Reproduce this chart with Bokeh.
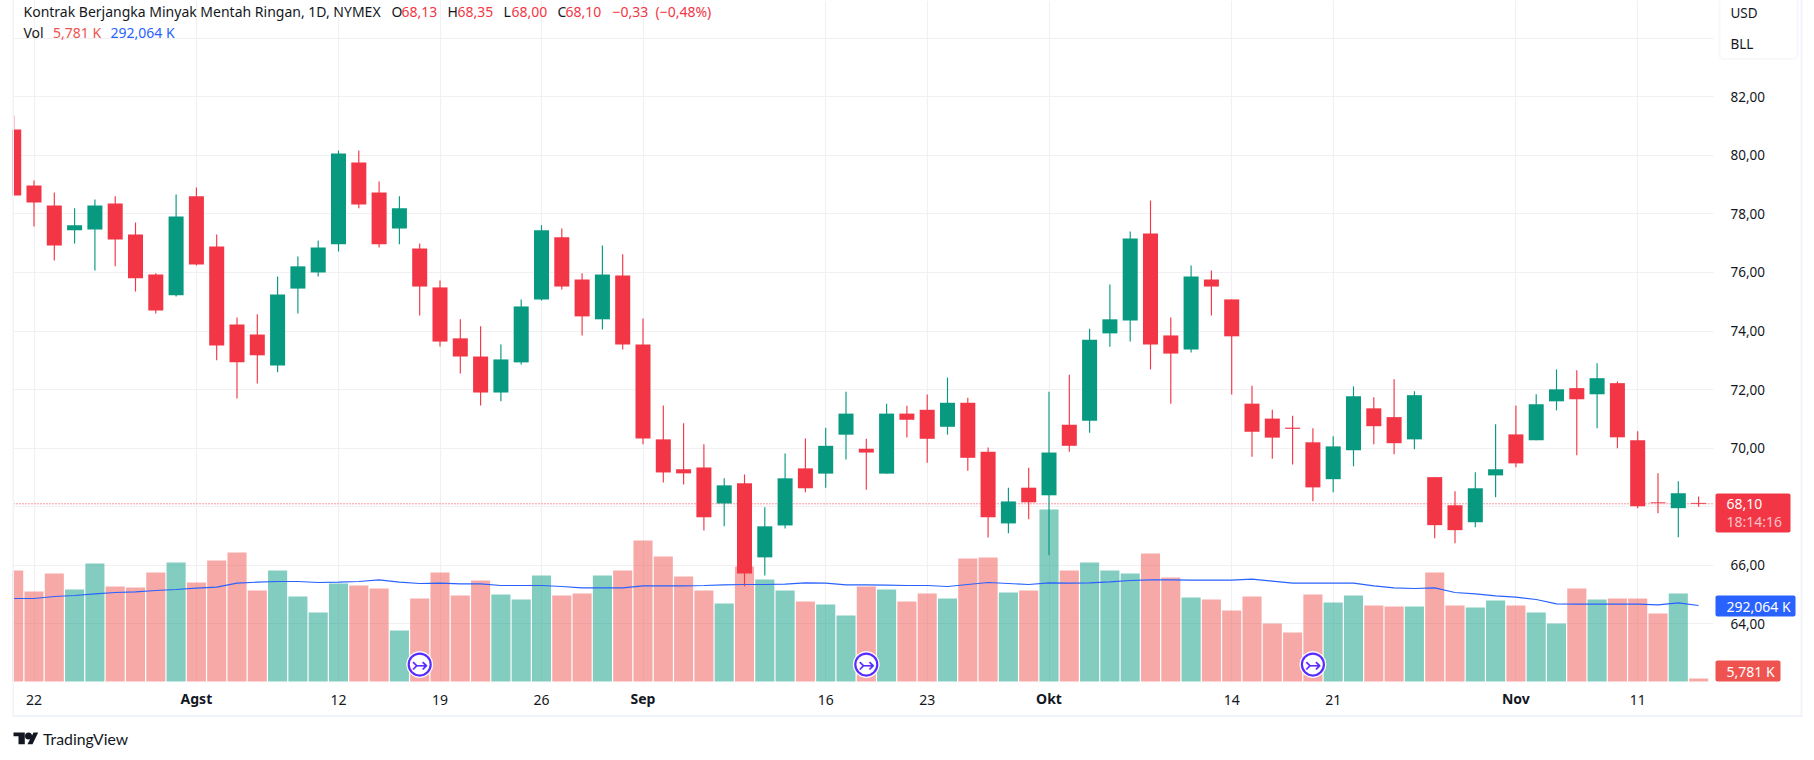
from bokeh.plotting import figure
from bokeh.embed import file_html
from bokeh.resources import INLINE
from bokeh.core.properties import value
from bokeh.models import (ColumnDataSource, FixedTicker, Range1d, Label,
                          BoxAnnotation, PolyAnnotation)

first_bar = -1
opens = [80.88,78.97,78.29,77.44,77.47,78.36,77.30,75.93,75.22,78.60,76.89,74.22,73.88,72.82,75.45,76.00,76.96,79.76,78.73,77.50,
         76.82,75.49,73.75,73.13,71.90,72.93,75.08,77.20,75.76,74.40,75.90,73.54,70.30,69.28,69.34,68.11,68.80,66.27,67.36,69.31,
         69.13,70.46,69.98,69.13,71.18,71.31,70.73,71.55,69.88,67.43,68.65,68.39,70.80,70.94,73.92,74.36,77.33,73.85,73.37,75.76,
         75.08,71.52,71.01,70.70,70.20,68.94,69.93,71.36,71.06,70.30,69.01,68.05,67.47,69.07,70.47,70.27,71.60,72.05,71.84,72.22,
         70.27,68.15,67.95,68.13]
highs = [81.36,79.14,78.73,78.19,78.49,78.60,77.71,75.97,78.66,78.90,77.30,74.46,74.57,75.86,76.55,77.09,80.17,80.17,79.11,78.60,
         76.99,75.73,74.40,74.16,73.54,75.08,77.61,77.50,75.97,76.92,76.62,74.43,71.46,70.85,70.13,68.97,69.10,67.98,69.82,70.33,
         70.70,71.93,70.32,71.52,71.45,71.83,72.41,71.72,70.02,68.65,69.33,71.93,72.51,74.08,75.59,77.40,78.46,74.46,76.24,76.07,
         75.08,72.13,71.31,71.11,70.68,70.41,72.11,71.74,72.35,71.94,69.01,68.53,69.18,70.82,71.46,71.84,72.69,72.66,72.90,72.28,
         70.58,69.14,68.87,68.35]
lows = [78.63,77.57,76.41,76.99,76.07,76.21,75.35,74.60,75.18,76.24,73.00,71.70,72.21,72.59,74.60,75.86,76.72,78.19,76.85,76.96,
        74.53,73.47,72.55,71.46,71.60,72.86,75.04,75.42,73.85,74.05,73.37,70.13,68.83,68.76,67.19,67.33,65.28,65.65,67.26,68.49,
        68.65,69.61,68.58,69.13,70.36,69.50,70.46,69.23,66.95,67.09,67.57,66.34,69.88,70.53,73.46,73.64,72.69,71.52,73.27,74.53,
        71.83,69.71,69.64,69.44,68.19,68.49,69.38,70.13,69.79,69.96,66.92,66.75,67.30,68.32,69.35,70.27,71.29,69.76,70.68,70.00,
        67.95,67.78,66.96,68.00]
closes = [78.63,78.39,76.92,77.61,78.29,77.13,75.80,74.70,77.91,76.27,73.51,72.93,73.17,75.25,76.21,76.85,80.06,78.32,76.96,78.19,
          75.52,73.64,73.13,71.90,73.03,74.84,77.44,75.52,74.50,75.93,73.54,70.33,69.17,69.14,67.64,68.73,65.72,67.33,68.97,68.63,
          70.08,71.18,69.85,71.18,70.97,70.32,71.55,69.67,67.64,68.18,68.15,69.85,70.08,73.70,74.40,77.16,73.54,73.23,75.86,75.52,
          73.82,70.56,70.36,70.66,68.66,70.06,71.77,70.75,70.17,71.81,67.37,67.20,68.63,69.28,69.48,71.50,72.01,71.67,72.39,70.37,
          68.02,68.12,68.46,68.10]
volumes = [429.3,346.9,417.5,354.8,456.7,366.5,362.6,421.4,460.6,382.2,468.5,499.8,350.8,429.3,327.3,264.6,378.3,370.5,358.7,194.0,
           319.5,421.4,331.2,390.1,335.2,315.6,409.7,331.2,339.1,409.7,429.3,546.9,484.2,405.7,350.8,299.9,445.0,394.0,350.8,307.7,
           296.0,252.8,366.5,354.8,307.7,339.1,319.5,476.3,480.2,343.0,350.8,668.4,429.3,460.6,429.3,417.5,495.9,401.8,323.4,315.6,
           272.4,327.3,221.5,186.2,335.2,303.8,331.2,292.0,288.1,288.1,421.4,292.0,284.2,311.6,292.0,264.6,221.5,358.7,315.6,319.5,
           319.5,260.7,339.1,5.781]
volume_ma = [319.5,319.5,327.3,331.2,337.8,343.0,345.6,350.8,354.8,360.0,363.9,379.6,383.5,386.1,386.1,382.2,383.5,386.1,392.7,383.5,
             378.3,379.6,377.0,377.0,370.5,370.5,370.5,366.5,361.3,361.3,361.3,369.1,369.1,369.1,370.5,373.1,374.4,374.4,375.7,380.9,
             379.6,373.1,373.1,371.8,370.5,370.5,366.5,374.4,382.2,378.3,374.4,380.9,379.6,380.9,384.8,390.1,392.7,392.7,391.4,391.4,
             391.4,395.3,387.4,379.6,379.6,379.6,379.6,369.1,361.3,358.7,361.3,343.0,337.8,329.9,324.7,315.6,298.5,297.2,297.2,297.2,
             297.2,294.6,302.5,292.064]
price_ticks = [64, 66, 68, 70, 72, 74, 76, 78, 80, 82, 84]
hidden_price_ticks = [68, 84]
date_ticks = [0, 15, 20, 25, 39, 44, 59, 64, 79]
date_labels = ["22", "12", "19", "26", "16", "23", "14", "21", "11"]
month_ticks = [8, 30, 50, 73]
month_labels = ["Agst", "Sep", "Okt", "Nov"]
event_bars = [19, 41, 63]
event_level = [62.61, 62.61, 62.61]
last_price = 68.10

GREEN = "#089981"
RED = "#F23645"
BLUE = "#2962FF"
VRED = "#EF5350"
INK = "#131722"
GRID = "#F1F1F4"
BORDER = "#F0F3FA"
FONT = "Noto Sans"

# pane geometry (canvas pixels) and the ranges that fill the whole canvas with it
W, H = 1814, 760
PANE_L, PANE_R, PANE_B = 13, 1713, 681
BAR_STEP, BAR0 = 20.3, 33.5
x0, x1 = (0 - BAR0) / BAR_STEP, (W - BAR0) / BAR_STEP
PRICE_PX, PRICE_82_Y = 29.28, 96.3
y1 = 82 + PRICE_82_Y / PRICE_PX
y0 = 82 - (H - PRICE_82_Y) / PRICE_PX
pane_bottom_price = 82 - (PANE_B - PRICE_82_Y) / PRICE_PX
VOL_PX, VOL_BASE = 0.255, -5.98
vol0 = VOL_BASE - (H - PANE_B) / VOL_PX
vol1 = VOL_BASE + PANE_B / VOL_PX
pane_left_bar = (PANE_L - BAR0) / BAR_STEP
pane_right_bar = (PANE_R - BAR0) / BAR_STEP

x = [first_bar + i for i in range(len(opens))]
up = [c >= o for o, c in zip(opens, closes)]
src = ColumnDataSource(dict(
    x=x, high=highs, low=lows, top=[max(o, c) for o, c in zip(opens, closes)],
    bot=[min(o, c) for o, c in zip(opens, closes)], vol=volumes, ma=volume_ma,
    col=[GREEN if u else RED for u in up], vcol=[GREEN if u else VRED for u in up]))

p = figure(width=W, height=H, output_backend="svg", toolbar_location=None,
           x_range=Range1d(x0, x1), y_range=Range1d(y0, y1),
           y_axis_location="right", min_border=0, outline_line_color=None,
           background_fill_color="white", border_fill_color="white")
p.extra_y_ranges = {"vol": Range1d(vol0, vol1)}

ya = p.yaxis[0]
ya.fixed_location = pane_right_bar
ya.ticker = FixedTicker(ticks=price_ticks)
ya.major_label_overrides = {t: ("" if t in hidden_price_ticks else f"{t},00") for t in price_ticks}
ya.axis_line_color = None
ya.major_tick_line_color = None
ya.minor_tick_line_color = None
ya.major_label_standoff = 11
ya.major_label_text_font = FONT
ya.major_label_text_font_size = "13.5px"
ya.major_label_text_color = INK

xa = p.xaxis[0]
xa.fixed_location = pane_bottom_price
xa.ticker = FixedTicker(ticks=date_ticks + month_ticks)
overrides = {t: l for t, l in zip(date_ticks, date_labels)}
overrides.update({t: "" for t in month_ticks})
xa.major_label_overrides = overrides
xa.axis_line_color = None
xa.major_tick_line_color = None
xa.minor_tick_line_color = None
xa.major_label_standoff = 7
xa.major_label_text_font = FONT
xa.major_label_text_font_size = "14px"
xa.major_label_text_color = INK

p.xgrid.grid_line_color = GRID
p.ygrid.grid_line_color = GRID
p.xgrid.grid_line_width = 1.15
p.ygrid.grid_line_width = 1.15


def box(l, r, t, b, color, radius=0, border=None, level="annotation"):
    p.add_layout(BoxAnnotation(left=l, right=r, top=t, bottom=b,
                               left_units="canvas", right_units="canvas", top_units="canvas",
                               bottom_units="canvas", fill_color=color, fill_alpha=1,
                               line_color=border, line_width=2 if border else 0,
                               border_radius=radius, level=level))


def label(xp, yp, text, color=INK, size="14px", align="left", style="normal", font=FONT, x_units="canvas"):
    p.add_layout(Label(x=xp, y=yp, x_units=x_units, y_units="canvas", text=text,
                       text_color=color, text_font=font, text_font_size=size, text_align=align,
                       text_baseline="middle", text_font_style=style))


# the grid stops at the pane's edges: white over it, under axes and marks
box(PANE_R, W, -2, H, "white", level="underlay")
box(0, W, PANE_B, H, "white", level="underlay")

p.vbar(x="x", top="vol", bottom=VOL_BASE, width=0.94, fill_color="vcol", line_color=None,
       fill_alpha=0.5, source=src, y_range_name="vol")
p.line("x", "ma", line_color=BLUE, line_width=1.2, source=src, y_range_name="vol")
p.segment(x0=[pane_left_bar], y0=[last_price], x1=[pane_right_bar], y1=[last_price],
          line_color=RED, line_width=1, line_dash="1 2")
p.segment(x0="x", y0="low", x1="x", y1="high", line_color="col", line_width=1.15, source=src)
p.vbar(x="x", top="top", bottom="bot", width=0.74, fill_color="col", line_color=None, source=src)

ev = ColumnDataSource(dict(x=event_bars, y=event_level, t=["\u21a3"] * len(event_bars)))
p.scatter("x", "y", size=26, fill_color="white", line_color="white", source=ev)
p.scatter("x", "y", size=22, fill_color="white", line_color="#5A2BFF", line_width=2.2, source=ev)
p.text("x", "y", text="t", text_color="#5A2BFF", text_font=value("DejaVu Sans"), text_font_size="20px",
       text_align="center", text_baseline="middle", source=ev)

# left of the pane: the first bar is cut off there
box(0, 12, -2, H, "white")

# panel frame
box(12, 13.5, -2, 716, BORDER)
box(12, 1802, 714.5, 716.5, BORDER)
box(1800, 1802, -2, 716, BORDER)

# currency / unit box
box(1719, 1797, -6, 58.5, "white", radius=4, border="#E6E8EE")
label(1730, 12.5, "USD", size="13.5px")
label(1730, 43, "BLL", size="13.5px")

# last-value tags
box(1715, 1790, 493, 532, RED, radius=2)
label(1726, 503, "68,10", color="white")
label(1726, 521, "18:14:16", color="#FBC3C8")
box(1715, 1795, 595, 616, BLUE, radius=2)
label(1726, 605.5, "292,064 K", color="white")
box(1715, 1780, 660, 681, VRED, radius=2)
label(1726, 670.5, "5,781 K", color="white")

# month labels (bold)
for t, l in zip(month_ticks, month_labels):
    label(t, 698, l, align="center", style="bold", x_units="data")

# legend
label(23, 11, "Kontrak Berjangka Minyak Mentah Ringan, 1D, NYMEX")
for xp, t in [(391, "O"), (447, "H"), (503, "L"), (557, "C")]:
    label(xp, 11, t)
for xp, t in [(401, "68,13"), (457, "68,35"), (511, "68,00"), (565, "68,10"), (612, "\u22120,33"), (655, "(\u22120,48%)")]:
    label(xp, 11, t, color=RED)
label(23, 32, "Vol")
label(52.5, 32, "5,781 K", color=VRED)
label(110, 32, "292,064 K", color=BLUE)


# attribution mark and name
def poly(xs, ys):
    p.add_layout(PolyAnnotation(xs=xs, ys=ys, xs_units="canvas", ys_units="canvas",
                                fill_color=INK, fill_alpha=1, line_color=None))


poly([13, 24.3, 24.3, 18, 18, 13], [732, 732, 743.7, 743.7, 735.7, 735.7])
box(24.5, 31.5, 732, 739, INK, radius=4)
poly([33, 37.7, 32, 27], [732, 732, 743.7, 743.7])
label(42.5, 738, "TradingView", size="15.8px", font="Lato")

open("out.html", "w").write(file_html(p, INLINE))
